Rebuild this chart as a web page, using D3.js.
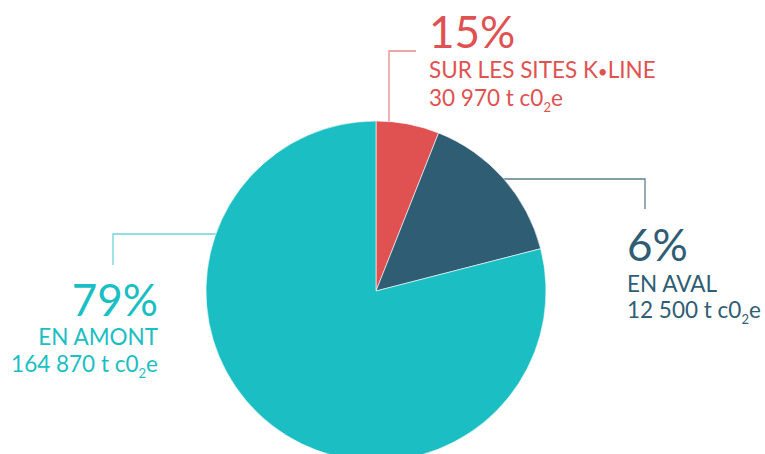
<!DOCTYPE html>
<html>
<head>
<meta charset="utf-8">
<script src="https://cdn.jsdelivr.net/npm/d3@7"></script>
<style>
	body { margin: 0; background: #fff; }
	svg { display: block; font-family: Lato, "Open Sans", sans-serif; }
</style>
</head>
<body>
<svg id="chart" width="765" height="454"></svg>
<script>
// values as printed / as drawn in the original graphic
var categories = ["SUR LES SITES K•LINE", "EN AVAL", "EN AMONT"];
var pctLabels = ["15%", "6%", "79%"];
var tonnes = ["30 970", "12 500", "164 870"];
var sliceShares = [6, 15, 79];
var colors = ["#e05252", "#2f5d74", "#1bbec3"];
var lineColors = ["#e98a8a", "#5e7f90", "#6fd4d7"];

var width = 765,
	height = 454,
	cx = 376,
	cy = 291,
	radius = 170;

var svg = d3.select("#chart");

// leader lines (drawn under the pie)
var leaders = [
	{ pts: [[389, 140], [389, 51], [416, 51]] },
	{ pts: [[480, 179], [645, 179], [645, 209]] },
	{ pts: [[113, 265], [113, 234], [240, 234]] }
];

var line = d3.line();

svg.append("g")
	.attr("class", "leaders")
	.selectAll("path")
	.data(leaders)
	.join("path")
		.attr("d", function(d){ return line(d.pts); })
		.attr("fill", "none")
		.attr("stroke", function(d, i){ return lineColors[i]; })
		.attr("stroke-width", 1.3);

var pie = d3.pie()
	.sort(null)
	.value(function(d){ return d; });

var arc = d3.arc()
	.innerRadius(0)
	.outerRadius(radius);

svg.append("g")
	.attr("transform", "translate(" + cx + "," + cy + ")")
	.selectAll("path")
	.data(pie(sliceShares))
	.join("path")
		.attr("d", arc)
		.attr("fill", function(d, i){ return colors[i]; })
		.attr("stroke", "#fff")
		.attr("stroke-width", 0.6);

// label blocks
var labels = [
	{ x: 429, y: 48, anchor: "start", lines: [78, 106] },
	{ x: 627, y: 261, anchor: "start", lines: [292, 318] },
	{ x: 158, y: 316, anchor: "end", lines: [345, 372] }
];

var lab = svg.append("g")
	.attr("class", "labels")
	.selectAll("g")
	.data(labels)
	.join("g")
		.attr("fill", function(d, i){ return colors[i]; })
		.attr("text-anchor", function(d){ return d.anchor; });

lab.append("text")
	.attr("x", function(d){ return d.x; })
	.attr("y", function(d){ return d.y; })
	.attr("font-size", 44)
	.text(function(d, i){ return pctLabels[i]; });

// category line, with the bullet set a little smaller
var cat = lab.append("text")
	.attr("x", function(d){ return d.x; })
	.attr("y", function(d){ return d.lines[0]; })
	.attr("font-size", 22.5);

cat.each(function(d, i) {
	var parts = categories[i].split("•"),
		t = d3.select(this);
	parts.forEach(function(p, k) {
		if (k > 0) t.append("tspan").attr("font-size", 17).text("•");
		t.append("tspan").text(p);
	});
});

var tl = lab.append("text")
	.attr("x", function(d){ return d.x; })
	.attr("y", function(d){ return d.lines[1]; })
	.attr("font-size", 22.5);

tl.append("tspan")
	.text(function(d, i){ return tonnes[i] + " t c0"; });
tl.append("tspan")
	.attr("font-size", 13)
	.attr("dy", 6)
	.text("2");
tl.append("tspan")
	.attr("dy", -6)
	.text("e");
</script>
</body>
</html>
